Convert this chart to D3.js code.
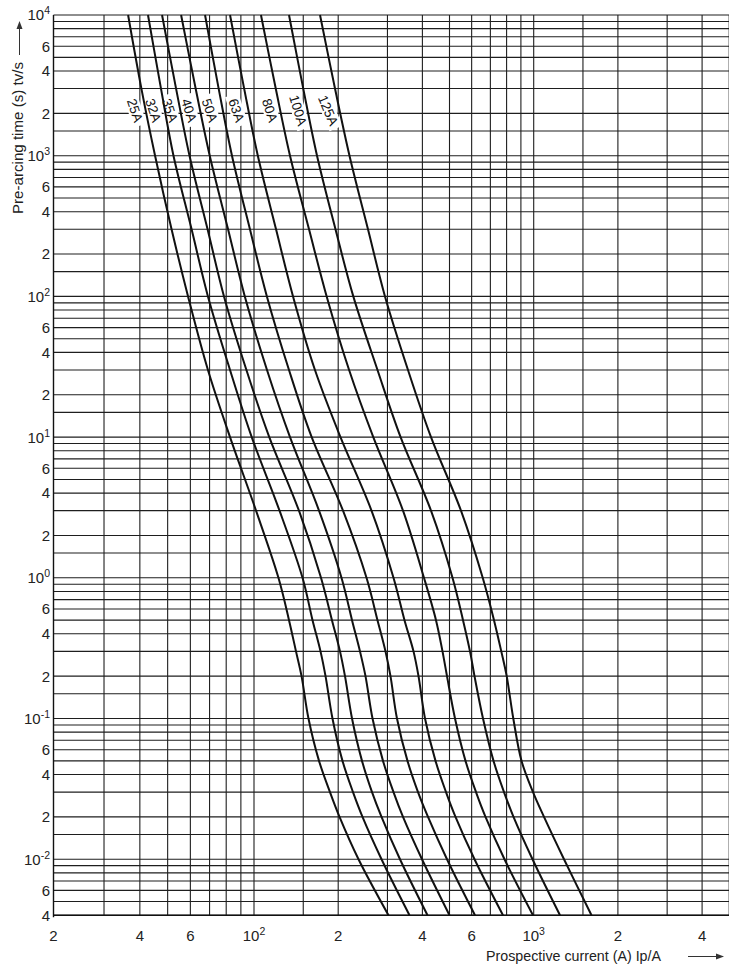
<!DOCTYPE html>
<html><head><meta charset="utf-8">
<script src="https://cdn.jsdelivr.net/npm/d3@7"></script>
<style>html,body{margin:0;padding:0;background:#fff}svg{display:block}</style>
</head><body>
<svg id="chart" width="729" height="972"></svg>
<script>
// ---- data ----
const ratings = ["25A","32A","35A","40A","50A","63A","80A","100A","125A"];
const times = [10000, 3000, 1000, 300, 100, 30, 10, 3, 1, 0.5, 0.3, 0.2, 0.1, 0.05, 0.03, 0.02, 0.01, 0.004];
const current25A  = [36.4, 40.5, 45.2, 51.6, 58.9, 69.1, 82.5, 101.7, 122.3, 133.4, 141.3, 147.9, 156.6, 170.8, 186.9, 202.2, 236.4, 302.6];
const current32A  = [42.7, 47.4, 52.4, 60.6, 69.1, 82.5, 98.2, 123.4, 149.1, 161.9, 172.9, 180.2, 190.8, 207.2, 225.9, 244.3, 285.7, 359.7];
const current35A  = [47.8, 53.5, 59.6, 68.9, 78.6, 94.1, 113.4, 144.8, 173.6, 190.0, 203.0, 211.5, 224.1, 243.3, 264.2, 285.7, 332.6, 417.2];
const current40A  = [55.7, 62.6, 70.1, 81.2, 92.9, 111.3, 134.5, 170.8, 205.5, 224.1, 239.3, 250.4, 265.3, 289.2, 315.3, 341.0, 398.7, 500.0];
const current50A  = [67.5, 75.3, 83.8, 96.8, 111.2, 133.4, 160.8, 208.1, 252.5, 276.4, 295.2, 307.6, 324.5, 353.8, 385.8, 418.9, 489.8, 616.8];
const current63A  = [82.5, 92.4, 103.2, 119.9, 137.9, 165.2, 203.8, 263.1, 315.3, 345.2, 371.8, 387.4, 408.7, 445.6, 485.8, 525.3, 614.3, 776.7];
const current80A  = [105.9, 119.6, 134.5, 157.3, 181.9, 218.8, 267.0, 341.0, 405.3, 447.4, 472.0, 489.8, 523.2, 570.4, 621.9, 672.5, 786.3, 994.3];
const current100A = [133.4, 150.0, 168.0, 195.6, 226.5, 276.4, 334.3, 429.4, 512.5, 558.8, 591.9, 614.3, 658.8, 718.3, 783.1, 846.8, 990.2, 1241.7];
const current125A = [172.2, 194.8, 219.5, 255.6, 294.0, 355.3, 429.4, 549.6, 657.2, 721.2, 765.9, 800.7, 845.4, 904.5, 994.3, 1088.5, 1283.3, 1609.4];
const labelTime = 2100;
const labelCurrents = [38.5, 44.6, 51.0, 59.5, 70.2, 87.0, 114.1, 144.0, 184.4];
const labelAngles = [72, 72, 72, 72, 72, 72, 72, 73, 67];

const xGridValues = [30,40,50,60,70,80,90,100,150,200,300,400,500,600,700,800,900,1000,1500,2000,3000,4000,5000];
const yGridMultiples = [1,1.5,2,3,4,5,6,7,8,9];
const xTickValues = [20,40,60,100,200,400,600,1000,2000,4000];
const yTickValues = [0.004,0.006,0.01,0.02,0.04,0.06,0.1,0.2,0.4,0.6,1,2,4,6,10,20,40,60,100,200,400,600,1000,2000,4000,6000,10000];
const xTitle = "Prospective current (A) Ip/A";
const yTitle = "Pre-arcing time (s) tv/s";

const series = ratings.map((r,i)=>({name:r, I:[current25A,current32A,current35A,current40A,current50A,current63A,current80A,current100A,current125A][i]}));

// ---- layout ----
const FONT = "'Liberation Sans', Arial, Helvetica, sans-serif";
const svg = d3.select("#chart");
const x = d3.scaleLog().domain([20,100,1000]).range([53.5,254,533.7]);
const y = d3.scaleLog().domain([0.004,10000]).range([915.2,15]);
const xL = x(20), xR = 729, yT = y(10000), yB = y(0.004);

// grid
const yGrid = [];
for (let e=-3; e<=3; e++) yGridMultiples.forEach(m=>{const v=m*Math.pow(10,e); if (v>=0.004*0.999 && v<=10000) yGrid.push(v);});
yGrid.push(10000);
const grid = svg.append("g").attr("stroke","#1e1e1e").attr("stroke-width",1.1);
grid.selectAll("line.h").data(yGrid).join("line").attr("class","h")
  .attr("x1",xL).attr("x2",xR).attr("y1",d=>y(d)).attr("y2",d=>y(d));
grid.selectAll("line.v").data(xGridValues).join("line").attr("class","v")
  .attr("x1",d=>x(d)).attr("x2",d=>x(d)).attr("y1",yT).attr("y2",yB);
// axes frame
svg.append("line").attr("x1",xL).attr("x2",xL).attr("y1",yT).attr("y2",yB+2).attr("stroke","#111").attr("stroke-width",1.4);
svg.append("line").attr("x1",xL).attr("x2",xR).attr("y1",yB).attr("y2",yB).attr("stroke","#111").attr("stroke-width",1.4);

// label boxes + labels
const lab = svg.append("g");
series.forEach((s,i)=>{
  const g = lab.append("g").attr("transform",`translate(${x(labelCurrents[i])},${y(labelTime)}) rotate(${labelAngles[i]})`);
  const t = g.append("text").attr("text-anchor","middle").attr("dy","0.36em")
    .attr("font-family",FONT).attr("font-size",13.5).attr("fill","#111").text(s.name);
  const w = t.node().getComputedTextLength();
  g.insert("rect","text").attr("x",-w/2-4).attr("y",-7).attr("width",w+8).attr("height",14).attr("fill","#fff");
});

// curves
const line = d3.line().x(d=>x(d[0])).y(d=>y(d[1])).curve(d3.curveCatmullRom.alpha(0.5));
svg.append("g").selectAll("path").data(series).join("path")
  .attr("d",s=>line(s.I.map((v,i)=>[v,times[i]])))
  .attr("fill","none").attr("stroke","#111").attr("stroke-width",2);

// tick labels
function fmt(sel, v){
  const e = Math.round(Math.log10(v));
  if (Math.abs(Math.pow(10,e)-v) < 1e-9*Math.max(1,v)) {
    sel.append("tspan").text("10");
    sel.append("tspan").attr("font-size",10.5).attr("dy",-6).text(String(e));
  } else {
    sel.text(String(Math.round(v/Math.pow(10,Math.floor(Math.log10(v)+1e-9)))));
  }
}
const yl = svg.append("g").attr("font-family",FONT).attr("font-size",15).attr("fill","#222");
yTickValues.forEach(v=>{
  const t = yl.append("text").attr("x",50).attr("y",y(v)).attr("dy","0.36em").attr("text-anchor","end");
  fmt(t,v);
});
const xl = svg.append("g").attr("font-family",FONT).attr("font-size",15).attr("fill","#222");
xTickValues.forEach(v=>{
  const t = xl.append("text").attr("x",x(v)).attr("y",941).attr("text-anchor","middle");
  fmt(t,v);
});

// titles
svg.append("text").attr("x",486).attr("y",961).attr("font-family",FONT).attr("font-size",14)
  .attr("textLength",175).attr("lengthAdjust","spacingAndGlyphs").attr("fill","#222").text(xTitle);
svg.append("text").attr("transform","translate(23,214) rotate(-90)").attr("font-family",FONT).attr("font-size",15)
  .attr("textLength",152).attr("lengthAdjust","spacingAndGlyphs").attr("fill","#222").text(yTitle);
// arrows
svg.append("line").attr("x1",688).attr("x2",718).attr("y1",956.5).attr("y2",956.5).attr("stroke","#333").attr("stroke-width",1);
svg.append("path").attr("d","M724,956.5 L716,953.5 L716,959.5 Z").attr("fill","#333");
svg.append("line").attr("x1",19.5).attr("x2",19.5).attr("y1",55).attr("y2",27).attr("stroke","#333").attr("stroke-width",1);
svg.append("path").attr("d","M19.5,21 L16.5,29 L22.5,29 Z").attr("fill","#333");
</script>
</body></html>
